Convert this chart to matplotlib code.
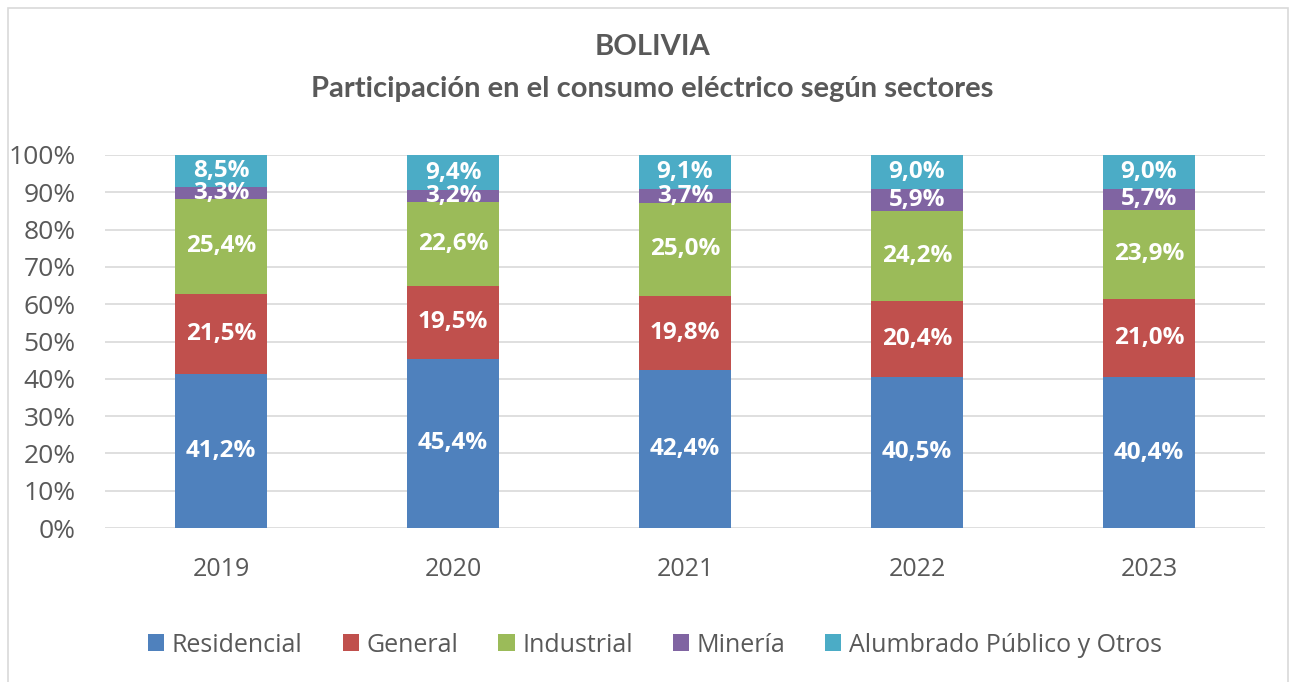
import numpy as np
import matplotlib.pyplot as plt
from matplotlib.patches import Rectangle

years = ["2019", "2020", "2021", "2022", "2023"]
sectors = ["Residencial", "General", "Industrial", "Minería", "Alumbrado Público y Otros"]
residencial = [41.2, 45.4, 42.4, 40.5, 40.4]
general = [21.5, 19.5, 19.8, 20.4, 21.0]
industrial = [25.4, 22.6, 25.0, 24.2, 23.9]
mineria = [3.3, 3.2, 3.7, 5.9, 5.7]
alumbrado = [8.5, 9.4, 9.1, 9.0, 9.0]

colors = ["#4F81BD", "#C0504D", "#9BBB59", "#8064A2", "#4BACC6"]
series = [residencial, general, industrial, mineria, alumbrado]

vals = np.array(series, dtype=float)
shares = vals / vals.sum(axis=0) * 100  # 100% stacked like Excel

fig = plt.figure(figsize=(12.92, 6.82), dpi=100)
fig.patches.append(Rectangle((8 / 1292, -0.01), 1280 / 1292, 1 - 8 / 682 + 0.01,
                             transform=fig.transFigure, fill=False,
                             edgecolor="#D9D9D9", linewidth=1.2))

ax = fig.add_axes([105 / 1292, 1 - 528 / 682, 1160 / 1292, 373 / 682])
x = np.arange(len(years))
bottom = np.zeros(len(years))
for name, s, v, c in zip(sectors, shares, vals, colors):
    ax.bar(x, s, 0.4, bottom=bottom, color=c, label=name, zorder=3)
    for xi, b, h, raw in zip(x, bottom, s, v):
        ax.text(xi, b + h / 2, f"{raw:.1f}%".replace(".", ","), ha="center", va="center",
                color="white", fontsize=17.5, fontweight="bold", family="Open Sans", zorder=4)
    bottom += s

ax.set_xlim(-0.5, len(years) - 0.5)
ax.set_ylim(0, 100)
ax.set_yticks(np.arange(0, 101, 10))
ax.set_yticklabels([f"{t}%" for t in range(0, 101, 10)])
ax.set_xticks(x)
ax.set_xticklabels(years)
ax.grid(axis="y", color="#D9D9D9", linewidth=1.2, zorder=0)
for sp in ax.spines.values():
    sp.set_visible(False)
ax.tick_params(length=0, labelsize=19, labelcolor="#595959")
ax.tick_params(axis="y", pad=21)
ax.tick_params(axis="x", labelsize=18, pad=21)
for lab in ax.get_xticklabels() + ax.get_yticklabels():
    lab.set_family("Open Sans")

fig.text(0.505, 1 - 47 / 682, "BOLIVIA", ha="center", va="center", fontsize=21,
         fontweight="bold", color="#595959", family="Lato")
fig.text(0.505, 1 - 89 / 682, "Participación en el consumo eléctrico según sectores",
         ha="center", va="center", fontsize=21, fontweight="bold", color="#595959", family="Lato")

leg = fig.legend(loc="center", bbox_to_anchor=(0.507, 1 - 645 / 682), ncol=5, frameon=False,
                 prop={"family": "Open Sans", "size": 18}, handlelength=0.65, handleheight=0.65,
                 handletextpad=0.3, columnspacing=1.6)
for t in leg.get_texts():
    t.set_color("#595959")

fig.savefig("out.png", dpi=100)
